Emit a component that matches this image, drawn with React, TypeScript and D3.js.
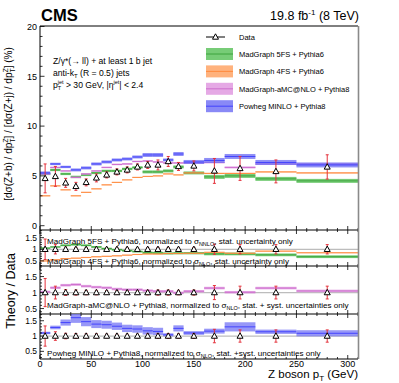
import * as d3 from "d3";

// bin edges in Z boson pT (GeV)
const binEdges = [0, 10, 20, 30, 40, 50, 60, 70, 80, 90, 100, 110, 120, 130, 140, 160, 180, 210, 250, 310];

// main panel: ratio Z+b / Z+j in %
const dataVals = [4.75, 4.95, 4.3, 3.95, 4.35, 4.8, 5.1, 5.4, 5.6, 5.9, 6.1, 6.1, 6.45, 5.95, 6.0, 5.5, 5.75, 5.45, 5.9];
const dataErr = [1.45, 1.0, 0.45, 0.4, 0.35, 0.4, 0.3, 0.3, 0.3, 0.3, 0.35, 0.5, 0.5, 0.4, 0.5, 1.25, 1.2, 1.15, 1.22];
const mg5fsVals = [5.2, 5.6, 5.2, 4.9, 5.1, 5.3, 5.5, 5.5, 5.7, 5.85, 5.4, 5.4, 5.5, 5.9, 5.3, 4.9, 5.0, 4.7, 4.5];
const mg5fsErr = [0.12, 0.12, 0.12, 0.12, 0.12, 0.12, 0.12, 0.12, 0.12, 0.12, 0.15, 0.15, 0.15, 0.15, 0.15, 0.2, 0.2, 0.2, 0.2];
const mg4fsVals = [3.0, 4.0, 3.6, 3.0, 3.35, 3.7, 4.1, 4.35, 4.6, 4.85, 4.95, 5.0, 5.2, 5.1, 5.3, 5.25, 5.25, 5.4, 5.3];
const mg4fsErr = [0.05, 0.05, 0.05, 0.05, 0.05, 0.05, 0.05, 0.05, 0.05, 0.05, 0.05, 0.05, 0.05, 0.05, 0.05, 0.06, 0.06, 0.06, 0.06];
const amcVals = [5.2, 5.85, 5.5, 4.85, 5.2, 5.5, 5.85, 6.15, 6.2, 6.45, 6.5, 6.4, 6.3, 6.3, 6.3, 6.35, 5.85, 6.2, 6.2];
const amcErr = [0.08, 0.08, 0.08, 0.08, 0.08, 0.08, 0.08, 0.08, 0.08, 0.08, 0.08, 0.08, 0.08, 0.08, 0.08, 0.1, 0.1, 0.1, 0.1];
const powhegVals = [5.3, 6.2, 5.9, 5.6, 5.8, 6.2, 6.4, 6.6, 6.7, 6.9, 7.1, 7.1, 6.6, 7.2, 6.4, 6.55, 6.95, 6.35, 6.1];
const powhegErr = [0.15, 0.12, 0.12, 0.15, 0.15, 0.15, 0.15, 0.15, 0.15, 0.15, 0.2, 0.2, 0.15, 0.2, 0.2, 0.25, 0.25, 0.25, 0.25];

// ratio panels: theory / data
const ratio5fs = [1.05, 1.1, 1.17, 1.2, 1.17, 1.1, 1.03, 0.98, 0.94, 0.9, 0.85, 0.84, 0.82, 0.83, 0.83, 0.8, 0.8, 0.76, 0.68];
const ratio5fsErr = [0.03, 0.03, 0.04, 0.04, 0.04, 0.04, 0.04, 0.04, 0.04, 0.04, 0.05, 0.05, 0.05, 0.05, 0.05, 0.06, 0.06, 0.06, 0.06];
const ratio4fs = [0.5, 0.55, 0.6, 0.62, 0.65, 0.68, 0.7, 0.72, 0.75, 0.78, 0.8, 0.8, 0.82, 0.82, 0.83, 0.87, 0.83, 0.92, 0.85];
const ratio4fsErr = [0.015, 0.015, 0.015, 0.015, 0.015, 0.015, 0.015, 0.015, 0.015, 0.015, 0.015, 0.015, 0.015, 0.015, 0.015, 0.02, 0.02, 0.02, 0.02];
const ratioAmc = [1.02, 1.15, 1.23, 1.25, 1.2, 1.17, 1.15, 1.11, 1.09, 1.09, 1.06, 1.04, 1.04, 0.99, 1.04, 1.14, 1.01, 1.14, 1.05];
const ratioAmcErr = [0.04, 0.04, 0.04, 0.04, 0.04, 0.04, 0.04, 0.04, 0.04, 0.04, 0.04, 0.04, 0.04, 0.04, 0.04, 0.04, 0.04, 0.04, 0.04];
const ratioPow = [1.1, 1.28, 1.44, 1.6, 1.47, 1.39, 1.37, 1.32, 1.25, 1.23, 1.17, 1.15, 1.04, 1.25, 1.1, 1.16, 1.3, 1.14, 1.09];
const ratioPowErr = [0.04, 0.06, 0.1, 0.17, 0.15, 0.13, 0.13, 0.12, 0.12, 0.12, 0.12, 0.12, 0.05, 0.1, 0.06, 0.08, 0.15, 0.07, 0.1];
const dataRatioStat = [0.44, 0.2, 0.09, 0.08, 0.07, 0.07, 0.06, 0.06, 0.06, 0.06, 0.07, 0.08, 0.08, 0.07, 0.08, 0.22, 0.2, 0.2, 0.2];
const dataRatioTot = [0.33, 0.14, 0.09, 0.08, 0.07, 0.07, 0.06, 0.06, 0.06, 0.06, 0.07, 0.08, 0.08, 0.07, 0.08, 0.22, 0.2, 0.2, 0.2];

const xTicks = [0, 50, 100, 150, 200, 250, 300];
const mainYTicks = [0, 5, 10, 15, 20];
const ratioYTicks = [0.5, 1, 1.5];

const FONT = "'Liberation Sans', Arial, Helvetica, sans-serif";
const RED = "#e4323c";

const COL = {
  green: { fill: "#5fc35f", line: "#2f9a2f" },
  orange: { fill: "#ffa466", line: "#ff8030" },
  violet: { fill: "#e09ae0", line: "#c860c8" },
  blue: { fill: "#7474f4", line: "#3030ff" },
};

const bins = binEdges.slice(0, -1).map((lo, i) => ({ lo, hi: binEdges[i + 1], c: (lo + binEdges[i + 1]) / 2 }));

const x = d3.scaleLinear().domain([0, 310]).range([40, 358]);

type Scale = d3.ScaleLinear<number, number>;

function Band({ vals, errs, y, col, opacity = 0.85 }: { vals: number[]; errs: number[]; y: Scale; col: { fill: string; line: string }; opacity?: number }) {
  return (
    <g>
      {bins.map((b, i) => (
        <g key={i}>
          <rect
            x={x(b.lo)}
            width={x(b.hi) - x(b.lo)}
            y={y(vals[i] + errs[i])}
            height={Math.max(1, y(vals[i] - errs[i]) - y(vals[i] + errs[i]))}
            fill={col.fill}
            opacity={opacity}
          />
          <line x1={x(b.lo)} x2={x(b.hi)} y1={y(vals[i])} y2={y(vals[i])} stroke={col.line} strokeWidth={0.8} />
        </g>
      ))}
    </g>
  );
}

function Triangle({ cx, cy }: { cx: number; cy: number }) {
  return <path d={`M${cx},${cy - 3.2}L${cx + 3},${cy + 2.2}L${cx - 3},${cy + 2.2}Z`} fill="white" stroke="black" strokeWidth={1} />;
}

function DataPoints({ vals, errs, y }: { vals: number[]; errs: number[]; y: Scale }) {
  return (
    <g>
      {bins.map((b, i) => {
        const cx = x(b.c);
        const top = y(vals[i] + errs[i]);
        const bot = y(vals[i] - errs[i]);
        return (
          <g key={i}>
            <line x1={cx} x2={cx} y1={top} y2={bot} stroke={RED} strokeWidth={1} />
            <line x1={cx - 1.5} x2={cx + 1.5} y1={top} y2={top} stroke={RED} strokeWidth={1} />
            <line x1={cx - 1.5} x2={cx + 1.5} y1={bot} y2={bot} stroke={RED} strokeWidth={1} />
            <Triangle cx={cx} cy={y(vals[i])} />
          </g>
        );
      })}
    </g>
  );
}

function XTicks({ y0, dir }: { y0: number; dir: number }) {
  return (
    <g stroke="black" strokeWidth={0.8}>
      {d3.range(0, 311, 10).map((v) => {
        const major = v % 50 === 0;
        return <line key={v} x1={x(v)} x2={x(v)} y1={y0} y2={y0 + dir * (major ? 4 : 2)} />;
      })}
    </g>
  );
}

function RatioPanel({ y, top, bottom, clipId, children }: { y: Scale; top: number; bottom: number; clipId: string; children: any }) {
  const minor = d3.range(1, 20).map((v) => v / 10).filter((v) => y(v) < bottom && y(v) > top);
  return (
    <g>
      <defs>
        <clipPath id={clipId}>
          <rect x={40} y={top} width={318} height={bottom - top} />
        </clipPath>
      </defs>
      <line x1={40} x2={358} y1={y(1)} y2={y(1)} stroke="#bdbdbd" strokeWidth={1.2} />
      <g clipPath={`url(#${clipId})`}>{children}</g>
      <XTicks y0={top} dir={1} />
      <XTicks y0={bottom} dir={-1} />
      <g stroke="black" strokeWidth={0.8}>
        {minor.map((v) => {
          const major = Math.abs(v * 2 - Math.round(v * 2)) < 1e-6;
          return <line key={v} x1={40} x2={40 + (major ? 4 : 2)} y1={y(v)} y2={y(v)} />;
        })}
      </g>
      {ratioYTicks.map((v) => (
        <text key={v} x={37} y={y(v) + 3} textAnchor="end" fontSize={8.5}>
          {v}
        </text>
      ))}
      <line x1={40} x2={358} y1={bottom} y2={bottom} stroke="black" strokeWidth={1} />
    </g>
  );
}

export default function App() {
  const yMain = d3.scaleLinear().domain([0, 20]).range([225.7, 26.5]);
  const yR1 = d3.scaleLinear().domain([0.28, 1.83]).range([266, 230]);
  const yR2 = d3.scaleLinear().domain([0.33, 1.83]).range([314, 266]);
  const yR3 = d3.scaleLinear().domain([0.25, 1.72]).range([359, 314]);
  const ones = bins.map(() => 1);

  const legendItems = [
    { label: "MadGraph 5FS + Pythia6", col: COL.green },
    { label: "MadGraph 4FS + Pythia6", col: COL.orange },
    { label: "MadGraph-aMC@NLO + Pythia8", col: COL.violet },
    { label: "Powheg MINLO + Pythia8", col: COL.blue },
  ];

  return (
    <svg width={399} height={383} style={{ position: "absolute", left: 0, top: 0, background: "white" }} fontFamily={FONT}>
      <rect x={0} y={0} width={399} height={383} fill="white" />
      {/* header */}
      <text x={41} y={21} fontSize={16.5} fontWeight="bold">CMS</text>
      <text x={359} y={20} fontSize={12.5} textAnchor="end">
        19.8 fb<tspan dy={-5} fontSize={8}>-1</tspan>
        <tspan dy={5}> (8 TeV)</tspan>
      </text>

      {/* main panel */}
      <defs>
        <clipPath id="mainclip">
          <rect x={40} y={26} width={318} height={204} />
        </clipPath>
      </defs>
      <g clipPath="url(#mainclip)">
        <Band vals={mg5fsVals} errs={mg5fsErr} y={yMain} col={COL.green} />
        <Band vals={mg4fsVals} errs={mg4fsErr} y={yMain} col={COL.orange} />
        <Band vals={amcVals} errs={amcErr} y={yMain} col={COL.violet} />
        <Band vals={powhegVals} errs={powhegErr} y={yMain} col={COL.blue} opacity={0.8} />
        <DataPoints vals={dataVals} errs={dataErr} y={yMain} />
      </g>
      <XTicks y0={230} dir={-1} />
      <g stroke="black" strokeWidth={0.8}>
        {d3.range(0, 21, 1).map((v) => (
          <line key={v} x1={40} x2={40 + (v % 5 === 0 ? 4.5 : 2.5)} y1={yMain(v)} y2={yMain(v)} />
        ))}
      </g>
      {mainYTicks.map((v) => (
        <text key={v} x={37} y={yMain(v) + 3.2} textAnchor="end" fontSize={9}>
          {v}
        </text>
      ))}

      {/* annotation */}
      <g fontSize={8.6}>
        <text x={53} y={64}>Z/γ*(→ ll) + at least 1 b jet</text>
        <text x={53} y={76}>
          anti-k<tspan dy={2} fontSize={6}>T</tspan>
          <tspan dy={-2}> (R = 0.5) jets</tspan>
        </text>
        <text x={53} y={88}>
          p<tspan dy={-4.5} fontSize={5.5}>jet</tspan>
          <tspan dx={-5.8} dy={6.5} fontSize={5.5}>T</tspan>
          <tspan dx={2.4} dy={-2}> &gt; 30 GeV, |η</tspan>
          <tspan dy={-4.5} fontSize={5.5}>jet</tspan>
          <tspan dy={4.5}>| &lt; 2.4</tspan>
        </text>
      </g>

      {/* legend */}
      <g fontSize={7.5}>
        <line x1={206} x2={225} y1={37} y2={37} stroke="black" strokeWidth={1} />
        <Triangle cx={215.5} cy={37} />
        <text x={239} y={39.5}>Data</text>
        {legendItems.map((it, i) => {
          const cy = 54 + i * 17.4;
          return (
            <g key={it.label}>
              <rect x={206} y={cy - 6} width={27} height={12} fill={it.col.fill} opacity={0.85} />
              <line x1={206} x2={233} y1={cy} y2={cy} stroke={it.col.line} strokeWidth={0.8} />
              <text x={239} y={cy + 2.7}>{it.label}</text>
            </g>
          );
        })}
      </g>

      {/* ratio panel 1 */}
      <RatioPanel y={yR1} top={230} bottom={266} clipId="r1">
        <Band vals={ratio5fs} errs={ratio5fsErr} y={yR1} col={COL.green} />
        <Band vals={ratio4fs} errs={ratio4fsErr} y={yR1} col={COL.orange} />
        <DataPoints vals={ones} errs={dataRatioStat} y={yR1} />
      </RatioPanel>
      {/* ratio panel 2 */}
      <RatioPanel y={yR2} top={266} bottom={314} clipId="r2">
        <Band vals={ratioAmc} errs={ratioAmcErr} y={yR2} col={COL.violet} />
        <DataPoints vals={ones} errs={dataRatioStat} y={yR2} />
      </RatioPanel>
      {/* ratio panel 3 */}
      <RatioPanel y={yR3} top={314} bottom={359} clipId="r3">
        <Band vals={ratioPow} errs={ratioPowErr} y={yR3} col={COL.blue} opacity={0.75} />
        <DataPoints vals={ones} errs={dataRatioTot} y={yR3} />
      </RatioPanel>

      <g fontSize={8.1}>
        <text x={47} y={243.5}>
          MadGraph 5FS + Pythia6, normalized to σ<tspan dy={2} fontSize={5.5}>NNLO</tspan>
          <tspan dy={-2}>, stat. uncertainty only</tspan>
        </text>
        <text x={47} y={263.5}>
          MadGraph 4FS + Pythia6, normalized to σ<tspan dy={2} fontSize={5.5}>NLO</tspan>
          <tspan dy={-2}>, stat. uncertainty only</tspan>
        </text>
        <text x={47} y={308}>
          MadGraph-aMC@NLO + Pythia8, normalized to σ<tspan dy={2} fontSize={5.5}>NLO</tspan>
          <tspan dy={-2}>, stat. + syst. uncertainties only</tspan>
        </text>
        <text x={47} y={355.5}>
          Powheg MINLO + Pythia8, normalized to σ<tspan dy={2} fontSize={5.5}>NLO</tspan>
          <tspan dy={-2}>, stat. +syst. uncertainties only</tspan>
        </text>
      </g>

      {/* frame */}
      <line x1={40} x2={40} y1={26} y2={359} stroke="black" strokeWidth={1} />
      <line x1={40} x2={358} y1={26} y2={26} stroke="black" strokeWidth={1} />
      <line x1={40} x2={358} y1={230} y2={230} stroke="black" strokeWidth={1} />
      <line x1={358.5} x2={358.5} y1={26} y2={359} stroke="#8a8a8a" strokeWidth={1.6} />

      {/* x axis labels */}
      {xTicks.map((v) => (
        <text key={v} x={x(v)} y={367} textAnchor="middle" fontSize={9}>
          {v}
        </text>
      ))}
      <text x={358} y={378} textAnchor="end" fontSize={11.5}>
        Z boson p<tspan dy={2.5} fontSize={8}>T</tspan>
        <tspan dy={-2.5}> (GeV)</tspan>
      </text>

      {/* y titles */}
      <text transform="translate(12,124) rotate(-90)" textAnchor="middle" fontSize={10}>
        [dσ(Z+b) / dp<tspan dy={-4} fontSize={7}>Z</tspan>
        <tspan dx={-4.3} dy={7} fontSize={7}>T</tspan>
        <tspan dy={-3}>] / [dσ(Z+j) / dp</tspan>
        <tspan dy={-4} fontSize={7}>Z</tspan>
        <tspan dx={-4.3} dy={7} fontSize={7}>T</tspan>
        <tspan dy={-3}>] (%)</tspan>
      </text>
      <text transform="translate(15,291) rotate(-90)" textAnchor="middle" fontSize={12.5}>
        Theory / Data
      </text>
    </svg>
  );
}
